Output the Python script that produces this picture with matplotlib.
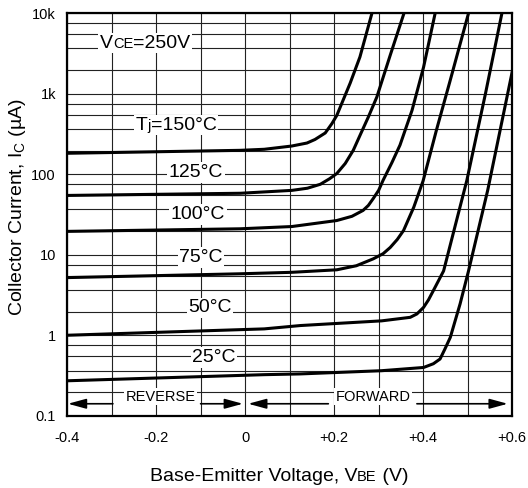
import matplotlib
matplotlib.use('Agg')
import matplotlib.pyplot as plt
from matplotlib.offsetbox import TextArea, HPacker, AnnotationBbox
from matplotlib.ticker import FixedLocator, NullFormatter

plt.rcParams['font.family'] = ['Liberation Sans', 'DejaVu Sans']

# curves: V_BE (V) -> I_C (uA)
vbe_150 = [-0.4, -0.011, 0.043, 0.105, 0.139, 0.157, 0.18, 0.195, 0.206, 0.236, 0.258, 0.285]
ic_150 = [182, 198, 204, 224, 244, 270, 325, 425, 537, 1350, 2860, 10000]

vbe_125 = [-0.4, -0.011, 0.105, 0.14, 0.169, 0.19, 0.206, 0.225, 0.243, 0.26, 0.277, 0.296, 0.326, 0.357]
ic_125 = [54.5, 58, 63, 67, 75, 88, 102, 136, 198, 320, 515, 910, 3000, 10000]

vbe_100 = [-0.4, -0.011, 0.105, 0.206, 0.24, 0.265, 0.277, 0.288, 0.3, 0.31, 0.33, 0.348, 0.375, 0.401, 0.427]
ic_100 = [19.5, 21, 22.4, 26.6, 30, 35.5, 41, 50, 63, 84, 140, 230, 620, 2140, 10000]

vbe_75 = [-0.4, -0.011, 0.105, 0.206, 0.25, 0.288, 0.31, 0.326, 0.342, 0.356, 0.379, 0.4, 0.43, 0.46, 0.502]
ic_75 = [5.2, 5.8, 6.05, 6.5, 7.3, 8.9, 10.3, 12.3, 15.5, 20, 39, 83, 355, 1410, 10000]

vbe_50 = [-0.4, 0.043, 0.124, 0.307, 0.371, 0.386, 0.401, 0.412, 0.423, 0.446, 0.472, 0.498, 0.54, 0.577]
ic_50 = [1.0, 1.2, 1.32, 1.51, 1.67, 1.84, 2.22, 2.75, 3.59, 6.3, 22.9, 83, 1000, 10000]

vbe_25 = [-0.4, 0.043, 0.124, 0.307, 0.401, 0.423, 0.438, 0.449, 0.461, 0.483, 0.502, 0.545, 0.6]
ic_25 = [0.272, 0.324, 0.331, 0.363, 0.398, 0.443, 0.507, 0.676, 0.94, 2.45, 6.3, 63, 1860]

x_ticks = [-0.4, -0.2, 0, 0.2, 0.4, 0.6]
x_ticklabels = ['-0.4', '-0.2', '0', '+0.2', '+0.4', '+0.6']
x_minor = [-0.3, -0.1, 0.1, 0.3, 0.5]
y_ticks = [0.1, 1, 10, 100, 1000, 10000]
y_ticklabels = ['0.1', '1', '10', '100', '1k', '10k']
y_minor_mult = [1.95, 3.65, 5.45, 7.5]


def label(ax, x, y, parts, size=14):
    boxes = [TextArea(t, textprops=dict(fontsize=size * s, color='k')) for t, s in parts]
    pack = HPacker(children=boxes, align='baseline', pad=0, sep=0)
    ab = AnnotationBbox(pack, (x, y), xycoords='data', frameon=True, pad=0.12,
                        bboxprops=dict(fc='white', ec='none'), zorder=4)
    ax.add_artist(ab)


fig = plt.figure(figsize=(5.28, 4.88), dpi=100)
ax = fig.add_axes([0.127, 0.148, 0.843, 0.825])
ax.set_yscale('log')
ax.set_xlim(-0.4, 0.6)
ax.set_ylim(0.1, 10000)

ax.set_xticks(x_ticks)
ax.set_xticklabels(x_ticklabels)
ax.set_xticks(x_minor, minor=True)
ax.set_yticks(y_ticks)
ax.set_yticklabels(y_ticklabels)
ax.yaxis.set_minor_locator(FixedLocator([d * m for d in y_ticks[:-1] for m in y_minor_mult]))
ax.yaxis.set_minor_formatter(NullFormatter())
ax.grid(True, which='both', color='#222222', lw=0.8, zorder=1)
ax.set_axisbelow(True)
ax.tick_params(which='both', length=0, labelsize=10.5)
ax.tick_params(axis='x', pad=11)
ax.tick_params(axis='y', pad=8)
for sp in ax.spines.values():
    sp.set_linewidth(1.6)

for v, i in [(vbe_150, ic_150), (vbe_125, ic_125), (vbe_100, ic_100),
             (vbe_75, ic_75), (vbe_50, ic_50), (vbe_25, ic_25)]:
    ax.plot(v, i, color='k', lw=2.2, zorder=5, solid_joinstyle='round')

label(ax, -0.225, 4240, [('V', 1), ('CE', 0.75), ('=250V', 1)])
label(ax, -0.155, 405, [('T', 1), ('j', 0.75), ('=150°C', 1)])
label(ax, -0.11, 105, [('125°C', 1)])
label(ax, -0.106, 31.6, [('100°C', 1)])
label(ax, -0.099, 9.2, [('75°C', 1)])
label(ax, -0.079, 2.2, [('50°C', 1)])
label(ax, -0.07, 0.53, [('25°C', 1)])
label(ax, -0.19, 0.172, [('REVERSE', 1)], size=10.5)
label(ax, 0.288, 0.172, [('FORWARD', 1)], size=10.5)

arrow_y = 0.141
astyle = dict(arrowstyle='-|>,head_length=1.1,head_width=0.3', color='k', lw=1.2,
              mutation_scale=10, shrinkA=0, shrinkB=0)
for start, tip in [(-0.297, -0.398), (-0.1, -0.005), (0.187, 0.007), (0.386, 0.59)]:
    ax.annotate('', xy=(tip, arrow_y), xytext=(start, arrow_y), arrowprops=astyle, zorder=6)

ax.set_ylabel('Collector Current, I$_{\\mathregular{C}}$ (µA)', fontsize=14)
ax.yaxis.set_label_coords(-0.112, 0.519)
ax.yaxis.label.set_verticalalignment('center')

xl = [TextArea('Base-Emitter Voltage, V', textprops=dict(fontsize=14)),
      TextArea('BE', textprops=dict(fontsize=10.5)),
      TextArea(' (V)', textprops=dict(fontsize=14))]
ab = AnnotationBbox(HPacker(children=xl, align='baseline', pad=0, sep=0),
                    (0.528, 0.024), xycoords='figure fraction', frameon=False)
fig.add_artist(ab)

fig.savefig('out.png', dpi=100)
